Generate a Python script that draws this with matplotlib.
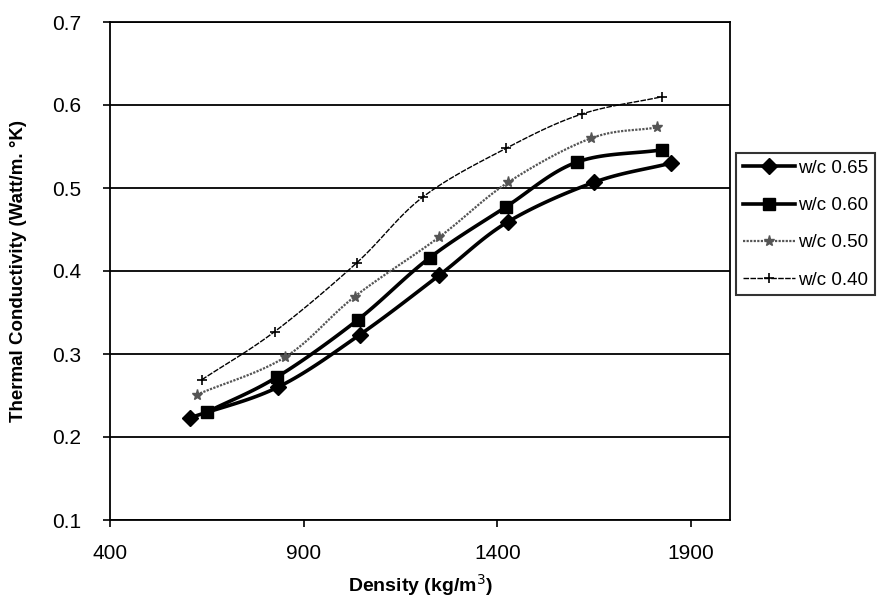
import numpy as np
import matplotlib
matplotlib.use("Agg")
import matplotlib.pyplot as plt

# ---- data ----
x_065 = [606, 833, 1044, 1250, 1426, 1650, 1848]
y_065 = [0.223, 0.260, 0.323, 0.395, 0.459, 0.507, 0.530]
x_060 = [650, 830, 1039, 1225, 1421, 1604, 1825]
y_060 = [0.230, 0.272, 0.341, 0.416, 0.477, 0.531, 0.546]
x_050 = [624, 851, 1031, 1250, 1428, 1642, 1812]
y_050 = [0.251, 0.296, 0.369, 0.441, 0.507, 0.560, 0.573]
x_040 = [637, 825, 1037, 1207, 1423, 1617, 1825]
y_040 = [0.269, 0.327, 0.410, 0.489, 0.548, 0.589, 0.610]
labels = ["w/c 0.65", "w/c 0.60", "w/c 0.50", "w/c 0.40"]
x_ticks = [400, 900, 1400, 1900]
y_ticks = [0.1, 0.2, 0.3, 0.4, 0.5, 0.6, 0.7]

plt.rcParams['font.family'] = ['Liberation Sans', 'DejaVu Sans']


def smooth(xs, ys, n=20):
    """Catmull-Rom curve through the points (Excel-like smoothed line)."""
    p = np.column_stack([xs, ys]).astype(float)
    p = np.vstack([2 * p[0] - p[1], p, 2 * p[-1] - p[-2]])
    out = []
    t = np.linspace(0, 1, n, endpoint=False)[:, None]
    for i in range(1, len(p) - 2):
        p0, p1, p2, p3 = p[i - 1], p[i], p[i + 1], p[i + 2]
        seg = 0.5 * ((2 * p1) + (-p0 + p2) * t + (2 * p0 - 5 * p1 + 4 * p2 - p3) * t ** 2
                     + (-p0 + 3 * p1 - 3 * p2 + p3) * t ** 3)
        out.append(seg)
    out.append(p[-2][None, :])
    out = np.vstack(out)
    return out[:, 0], out[:, 1]


fig = plt.figure(figsize=(8.78, 5.97), dpi=100)
ax = fig.add_axes([110 / 878, 1 - 520 / 597, 620 / 878, 498 / 597])

series = [
    (x_065, y_065, dict(color='black', lw=2.6), dict(marker='D', ms=8)),
    (x_060, y_060, dict(color='black', lw=2.6), dict(marker='s', ms=9)),
    (x_050, y_050, dict(color='#555555', lw=1.6, ls=(0, (1, 0.6))), dict(marker='*', ms=8)),
    (x_040, y_040, dict(color='black', lw=1.0, ls=(0, (4, 1))), dict(marker='+', ms=7, mew=1.2)),
]
handles = []
for (xs, ys, lstyle, mstyle), lab in zip(series, labels):
    sx, sy = smooth(xs, ys)
    ax.plot(sx, sy, **lstyle, zorder=3)
    ax.plot(xs, ys, ls='none', color=lstyle['color'], mfc=lstyle['color'],
            mec=lstyle['color'], zorder=4, **mstyle)
    h, = ax.plot([], [], color=lstyle['color'], lw=lstyle['lw'],
                 ls=lstyle.get('ls', '-'), mfc=lstyle['color'], mec=lstyle['color'], **mstyle)
    h.set_label(lab)
    handles.append(h)

ax.set_xlim(400, 2000)
ax.set_ylim(0.1, 0.7)
ax.set_xticks(x_ticks)
ax.set_yticks(y_ticks)
ax.set_yticklabels([f"{v:.1f}" for v in y_ticks])
ax.yaxis.grid(True, color='black', lw=1.3)
ax.set_axisbelow(True)
for s in ax.spines.values():
    s.set_linewidth(1.3)
    s.set_color('black')
ax.tick_params(axis='both', direction='out', length=5, width=1.2, labelsize=15, colors='black')
ax.tick_params(axis='y', pad=16)
ax.tick_params(axis='x', pad=12)

ax.set_xlabel("Density (kg/m$^{3}$)", fontsize=14, fontweight='bold')
ax.set_ylabel("Thermal Conductivity (Watt/m. °K)", fontsize=13.5, fontweight='bold')
ax.xaxis.set_label_coords(0.5, -0.104)
ax.yaxis.set_label_coords(-0.134, 0.5)

leg = fig.legend(handles=handles, loc='upper left', bbox_to_anchor=(736 / 878, 1 - 153 / 597),
                 frameon=True, fancybox=False, edgecolor='black', fontsize=13.5,
                 handlelength=2.8, handletextpad=0.15, labelspacing=1.08, borderpad=0.35,
                 borderaxespad=0)
leg.get_frame().set_linewidth(1.5)

fig.savefig("out.png", dpi=100)
